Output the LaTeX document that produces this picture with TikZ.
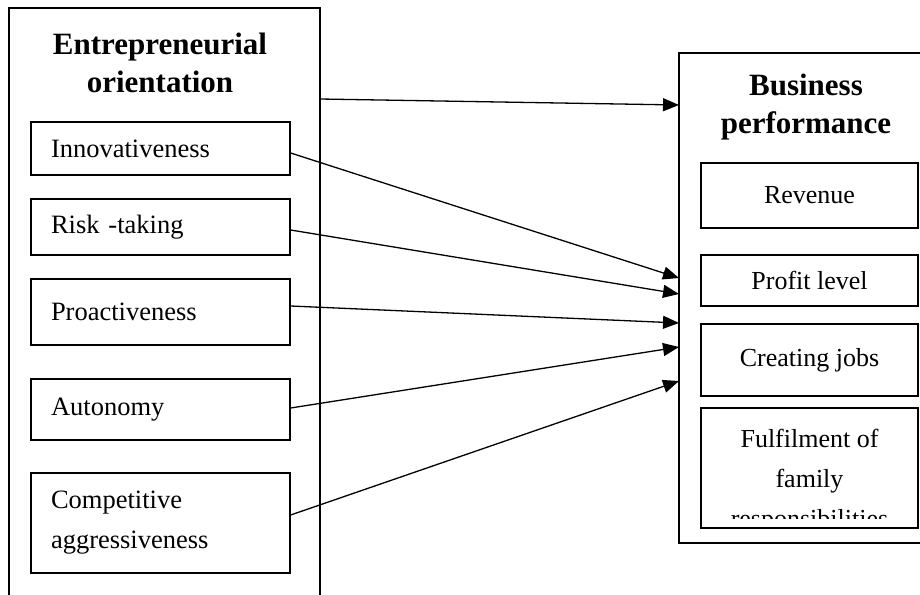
\documentclass[tikz,border=0pt]{standalone}
\usepackage{fontspec}
\setmainfont{Liberation Serif}
\usetikzlibrary{arrows.meta, positioning, calc}

\tikzset{
  heading/.style={font=\bfseries\fontsize{31}{38}\selectfont, align=center},
  label/.style={font=\fontsize{26}{40}\selectfont, align=center},
  factor/.style={draw, line width=1.3pt, text width=219pt, inner xsep=20pt, inner ysep=0pt,
    align=left, font=\fontsize{26.5}{40}\selectfont},
  measure/.style={draw, line width=1.3pt, minimum width=217pt, inner sep=0pt, label},
  frame/.style={line width=1.1pt},
  link/.style={line width=1.3pt, -{Triangle[length=16pt,width=13pt]}}
}

\begin{document}
\begin{tikzpicture}[x=1pt, y=-1pt]
  \useasboundingbox (0,0) rectangle (920,594);

  % Entrepreneurial orientation (frame runs off the page below)
  \draw[frame] (9,610) -- (9,8) -- (320,8) -- (320,610);
  \node[heading] (eo) at (160,63) {Entrepreneurial\\orientation};

  \node[factor, minimum height=53pt] (inno) at (160.5,148.5) {\raisebox{-4pt}{Innovativeness}};
  \node[factor, minimum height=56pt] (risk) at (160.5,227) {Risk -taking};
  \node[factor, minimum height=66pt] (proa) at (160.5,312) {Proactiveness};
  \node[factor, minimum height=61pt] (auto) at (160.5,409.5) {Autonomy};
  \node[factor, minimum height=100pt] (comp) at (160.5,523) {Competitive\\aggressiveness};

  % Business performance (frame runs off the page to the right)
  \draw[frame] (935,543) -- (679,543) -- (679,53) -- (935,53);
  \node[heading] (bp) at (806,107) {Business\\performance};

  \node[measure, minimum height=65pt] (rev) at (809.5,195.5) {Revenue};
  \node[measure, minimum height=51pt] (prof) at (809.5,280.5) {Profit level};
  \node[measure, minimum height=72pt] (jobs) at (809.5,360) {Creating jobs};
  \node[measure, minimum height=120pt] (fulf) at (809.5,468) {};
  \begin{scope}
    \clip (701,408) rectangle (918,518);
    \node[label, anchor=north, inner sep=0pt] (fulftext) at (809.5,429)
      {Fulfilment of\\family\\responsibilities};
  \end{scope}

  % Links
  \coordinate (eo-out) at (320,99);
  \coordinate (bp-in) at (679,105);
  \draw[link] (eo-out) -- (bp-in);

  \foreach \src/\dy/\ty in {inno/-4.5/278, risk/-3/294, proa/6/323, auto/1.5/347, comp/8/381} {
    \coordinate (\src-in) at (679,\ty);
    \draw[link] ([yshift=\dy pt]\src.east) -- (\src-in);
  }
\end{tikzpicture}
\end{document}
